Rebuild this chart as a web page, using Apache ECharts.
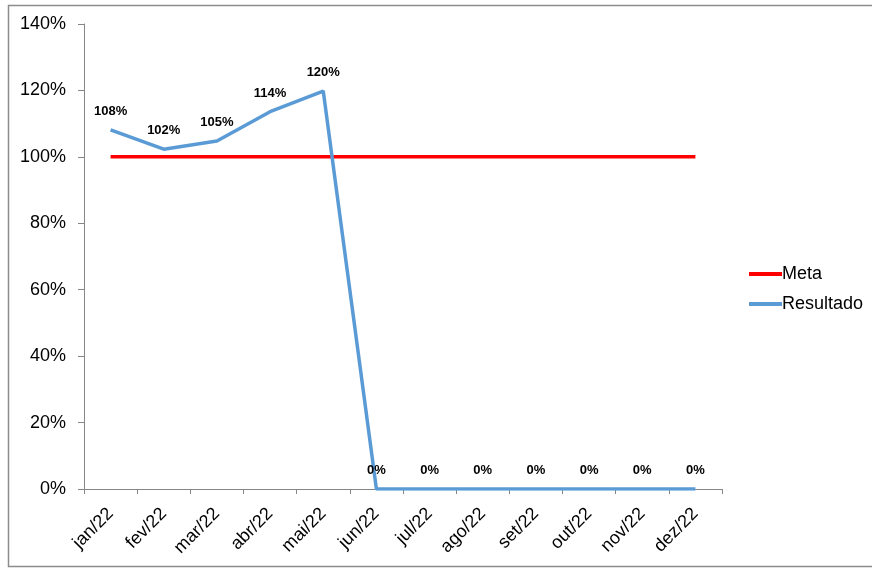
<!DOCTYPE html>
<html>
<head>
<meta charset="utf-8">
<script src="https://cdn.jsdelivr.net/npm/echarts@6/dist/echarts.min.js"></script>
<style>
html,body{margin:0;padding:0;background:#fff;}
#c{width:872px;height:569px;}
</style>
</head>
<body>
<div id="c"></div>
<script>
var categories = ['jan/22','fev/22','mar/22','abr/22','mai/22','jun/22','jul/22','ago/22','set/22','out/22','nov/22','dez/22'];
var meta = [1,1,1,1,1,1,1,1,1,1,1,1];
var resultado = [1.081,1.023,1.048,1.136,1.198,0,0,0,0,0,0,0];
var yTicks = [0,0.2,0.4,0.6,0.8,1.0,1.2,1.4];

var chart = echarts.init(document.getElementById('c'));
var font = '"Liberation Sans", Arial, sans-serif';
chart.setOption({
  animation:false,
  backgroundColor:'#fff',
  graphic:[{type:'rect',shape:{x:8.5,y:5.5,width:900,height:561},style:{fill:'none',stroke:'#8c8c8c',lineWidth:1.5},silent:true}],
  grid:{left:84,right:150,top:24,bottom:80,containLabel:false},
  legend:{
    orient:'vertical', left:744, top:260, itemGap:12,
    icon:'rect', itemWidth:33, itemHeight:4,
    textStyle:{fontFamily:font,fontSize:18,color:'#000',padding:[0,0,0,-5]},
    data:['Meta','Resultado']
  },
  xAxis:{
    type:'category', data:categories, boundaryGap:true,
    axisLine:{lineStyle:{color:'#868686',width:1}},
    axisTick:{show:true,length:5,alignWithLabel:false,lineStyle:{color:'#868686'}},
    axisLabel:{rotate:45,fontFamily:font,fontSize:18,color:'#000',margin:22,interval:0}
  },
  yAxis:{
    type:'value', min:0, max:1.4, interval:0.2,
    axisLine:{show:true,lineStyle:{color:'#868686',width:1}},
    axisTick:{show:true,length:6,lineStyle:{color:'#868686'}},
    splitLine:{show:false},
    axisLabel:{fontFamily:font,fontSize:18,color:'#000',margin:18,
      formatter:function(v){return Math.round(v*100)+'%';}}
  },
  series:[
    {name:'Meta',type:'line',data:meta,symbol:'none',
      lineStyle:{color:'#ff0000',width:3.5},itemStyle:{color:'#ff0000'}},
    {name:'Resultado',type:'line',data:resultado,symbol:'circle',symbolSize:0.1,showSymbol:true,
      lineStyle:{color:'#5b9bd5',width:3.5},itemStyle:{color:'#5b9bd5'},
      label:{show:true,position:'top',distance:12,fontFamily:font,fontSize:13,fontWeight:'bold',color:'#000',
        formatter:function(p){return Math.round(p.value*100)+'%';}}}
  ]
});
</script>
</body>
</html>
